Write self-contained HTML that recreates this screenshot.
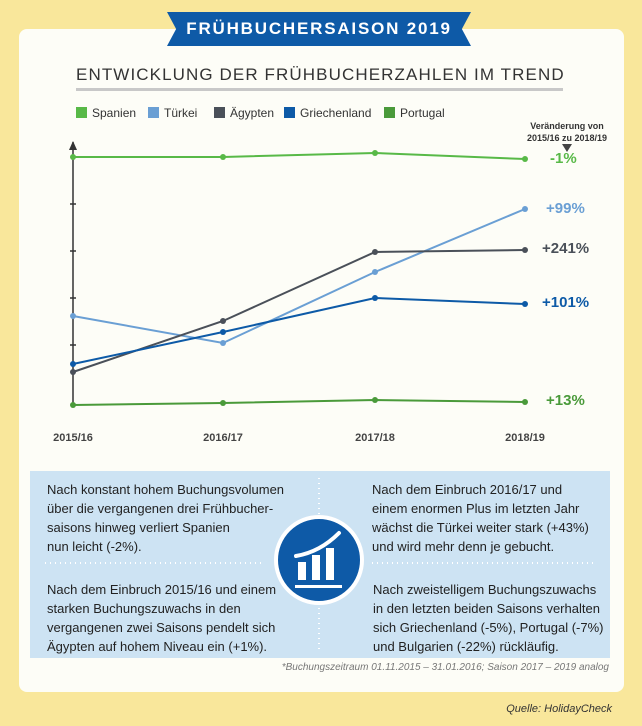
<!DOCTYPE html>
<html><head><meta charset="utf-8"><style>
body{margin:0;width:642px;height:726px;background:#f9e79b;font-family:"Liberation Sans",sans-serif;position:relative;overflow:hidden}
.card{position:absolute;left:19px;top:29px;width:605px;height:663px;background:#fdfdf7;border-radius:8px}
.banner{position:absolute;left:167px;top:12px;width:304px;height:34px;background:#0e5aa7;color:#fff;font-weight:bold;font-size:17px;letter-spacing:1.8px;text-align:center;line-height:34px;clip-path:polygon(0 0,100% 0,97% 50%,100% 100%,0 100%,3% 50%)}
.t{position:absolute;white-space:nowrap}
.box{position:absolute;left:30px;top:471px;width:580px;height:187px;background:#cde3f3}
.p{position:absolute;font-size:13px;line-height:19px;color:#222}
</style></head><body>
<div class="card"></div>
<div class="banner">FRÜHBUCHERSAISON 2019</div>
<div class="t" style="left:76px;top:65px;font-size:17px;letter-spacing:1.1px;color:#333">ENTWICKLUNG DER FRÜHBUCHERZAHLEN IM TREND</div>
<div style="position:absolute;left:76px;top:88px;width:487px;height:3px;background:#c8c8c8"></div>
<svg width="642" height="726" style="position:absolute;left:0;top:0">
<g font-size="12" fill="#333">
<rect x="76" y="107" width="11" height="11" fill="#58b947"/><text x="92" y="117">Spanien</text>
<rect x="148" y="107" width="11" height="11" fill="#6a9fd4"/><text x="164" y="117">Türkei</text>
<rect x="214" y="107" width="11" height="11" fill="#4a5059"/><text x="230" y="117">Ägypten</text>
<rect x="284" y="107" width="11" height="11" fill="#0d5aa7"/><text x="300" y="117">Griechenland</text>
<rect x="384" y="107" width="11" height="11" fill="#4a9a3a"/><text x="400" y="117">Portugal</text>
</g>
<g font-size="9" fill="#333" font-weight="bold" text-anchor="middle"><text x="567" y="129">Veränderung von</text><text x="567" y="141">2015/16 zu 2018/19</text></g>
<polygon points="562,144 572,144 567,152" fill="#444"/>
<line x1="73" y1="142" x2="73" y2="406" stroke="#333" stroke-width="1.5"/>
<polygon points="69,150 77,150 73,141" fill="#333"/>
<g stroke="#333" stroke-width="1.5"><line x1="70" y1="204" x2="76" y2="204"/><line x1="70" y1="251" x2="76" y2="251"/><line x1="70" y1="298" x2="76" y2="298"/><line x1="70" y1="345" x2="76" y2="345"/></g>
<g fill="none" stroke-width="2">
<polyline points="73,157 223,157 375,153 525,159" stroke="#58b947"/>
<polyline points="73,316 223,343 375,272 525,209" stroke="#6a9fd4"/>
<polyline points="73,372 223,321 375,252 525,250" stroke="#4a5059"/>
<polyline points="73,364 223,332 375,298 525,304" stroke="#0d5aa7"/>
<polyline points="73,405 223,403 375,400 525,402" stroke="#4a9a3a"/>
</g>
<g>
<g fill="#58b947"><circle cx="73" cy="157" r="3"/><circle cx="223" cy="157" r="3"/><circle cx="375" cy="153" r="3"/><circle cx="525" cy="159" r="3"/></g>
<g fill="#6a9fd4"><circle cx="73" cy="316" r="3"/><circle cx="223" cy="343" r="3"/><circle cx="375" cy="272" r="3"/><circle cx="525" cy="209" r="3"/></g>
<g fill="#4a5059"><circle cx="73" cy="372" r="3"/><circle cx="223" cy="321" r="3"/><circle cx="375" cy="252" r="3"/><circle cx="525" cy="250" r="3"/></g>
<g fill="#0d5aa7"><circle cx="73" cy="364" r="3"/><circle cx="223" cy="332" r="3"/><circle cx="375" cy="298" r="3"/><circle cx="525" cy="304" r="3"/></g>
<g fill="#4a9a3a"><circle cx="73" cy="405" r="3"/><circle cx="223" cy="403" r="3"/><circle cx="375" cy="400" r="3"/><circle cx="525" cy="402" r="3"/></g>
</g>
<g font-size="15" font-weight="bold">
<text x="550" y="163" fill="#58b947">-1%</text>
<text x="546" y="213" fill="#6a9fd4">+99%</text>
<text x="542" y="253" fill="#4a5059">+241%</text>
<text x="542" y="307" fill="#0d5aa7">+101%</text>
<text x="546" y="405" fill="#4a9a3a">+13%</text>
</g>
<g font-size="11" font-weight="bold" fill="#444" text-anchor="middle">
<text x="73" y="441">2015/16</text><text x="223" y="441">2016/17</text><text x="375" y="441">2017/18</text><text x="525" y="441">2018/19</text>
</g>
</svg>
<div class="box"></div>
<svg width="642" height="726" style="position:absolute;left:0;top:0">
<g stroke="#fff" stroke-width="2" stroke-dasharray="1,4">
<line x1="319" y1="478" x2="319" y2="650"/><line x1="45" y1="563" x2="265" y2="563"/><line x1="372" y1="563" x2="593" y2="563"/>
</g>
<circle cx="319" cy="560" r="43" fill="#0e5aa7" stroke="#fff" stroke-width="4"/>
<g fill="#fff"><rect x="298" y="562" width="8" height="18"/><rect x="312" y="555" width="8" height="25"/><rect x="326" y="548" width="8" height="32"/><rect x="295" y="585" width="47" height="3"/></g>
<path d="M296,556 Q320,552 339,533" stroke="#fff" stroke-width="4" fill="none" stroke-linecap="round"/>
</svg>
<div class="p" style="left:47px;top:480px">Nach konstant hohem Buchungsvolumen<br>über die vergangenen drei Frühbucher-<br>saisons hinweg verliert Spanien<br>nun leicht (-2%).</div>
<div class="p" style="left:372px;top:480px">Nach dem Einbruch 2016/17 und<br>einem enormen Plus im letzten Jahr<br>wächst die Türkei weiter stark (+43%)<br>und wird mehr denn je gebucht.</div>
<div class="p" style="left:47px;top:580px">Nach dem Einbruch 2015/16 und einem<br>starken Buchungszuwachs in den<br>vergangenen zwei Saisons pendelt sich<br>Ägypten auf hohem Niveau ein (+1%).</div>
<div class="p" style="left:373px;top:580px">Nach zweistelligem Buchungszuwachs<br>in den letzten beiden Saisons verhalten<br>sich Griechenland (-5%), Portugal (-7%)<br>und Bulgarien (-22%) rückläufig.</div>
<div class="t" style="right:33px;top:662px;font-size:10px;font-style:italic;color:#777">*Buchungszeitraum 01.11.2015 – 31.01.2016; Saison 2017 – 2019 analog</div>
<div class="t" style="right:30px;top:703px;font-size:11px;font-style:italic;color:#333">Quelle: HolidayCheck</div>
</body></html>
